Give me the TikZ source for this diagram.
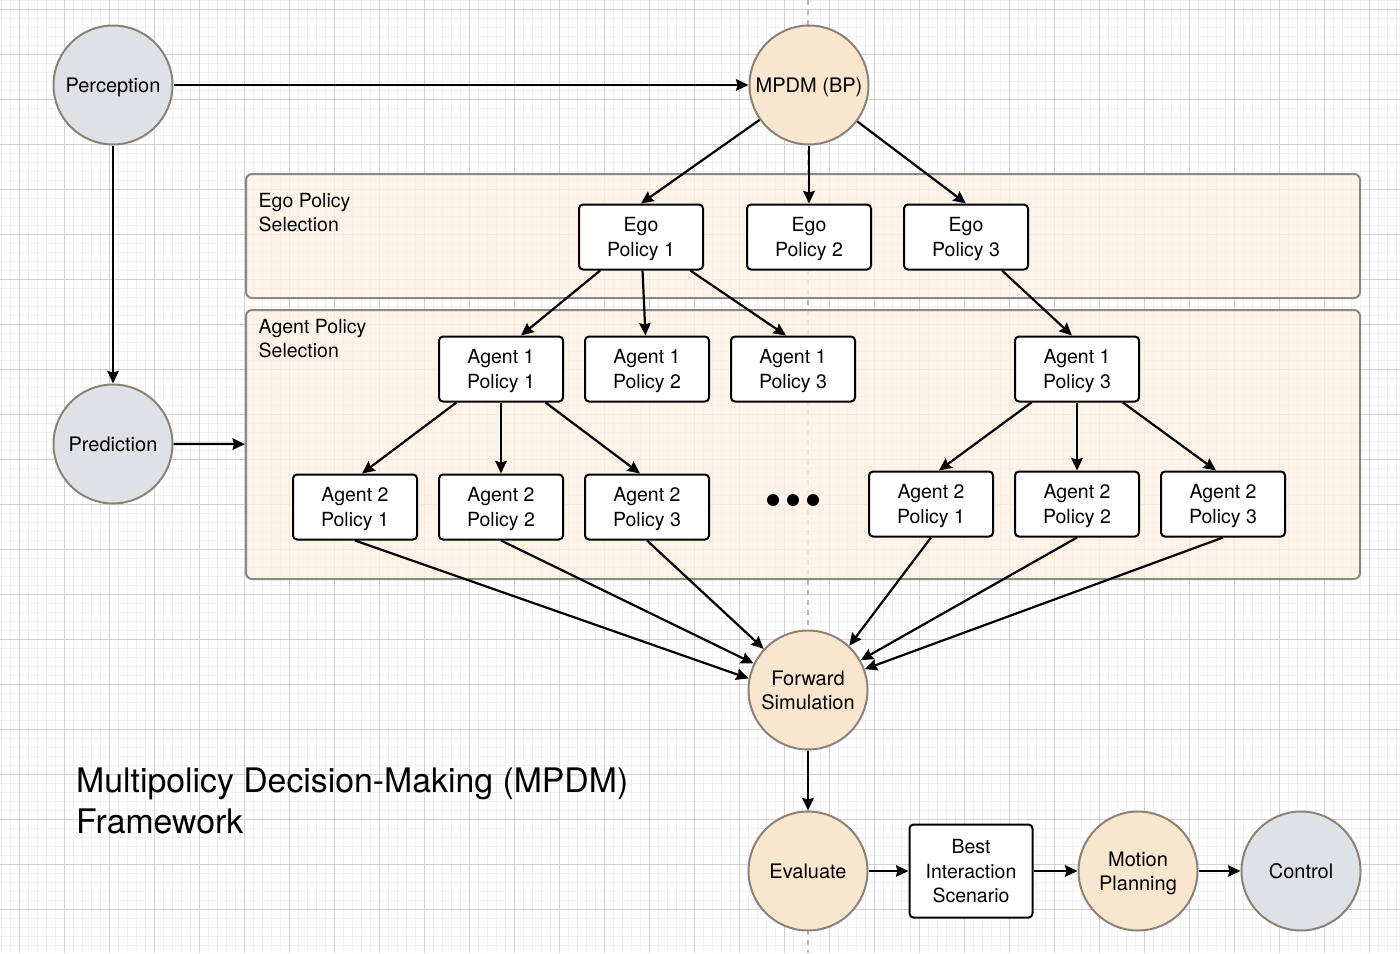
\documentclass[tikz,border=0pt]{standalone}
\usepackage{fontspec}
\setmainfont{TeX Gyre Heros}
\usetikzlibrary{positioning, arrows.meta}
\definecolor{gridmajor}{RGB}{208,208,208}
\definecolor{gridminor}{RGB}{240,240,240}
\definecolor{centreline}{RGB}{185,185,185}
\definecolor{greyfill}{RGB}{222,225,230}
\definecolor{peachfill}{RGB}{248,230,207}
\definecolor{circborder}{RGB}{140,130,118}
\definecolor{panelfill}{RGB}{252,240,226}
\definecolor{panelborder}{RGB}{143,135,125}

\begin{document}
\begin{tikzpicture}[
     x=1pt, y=-1pt,
     >={Stealth[length=12.5pt, width=11.5pt, inset=1.5pt]},
every node/.style = {font=\fontsize{19.5}{24.5}\selectfont},
   greycirc/.style = {circle, draw=circborder, line width=2pt, fill=greyfill,
                      minimum size=119pt, inner sep=0pt, align=center, text depth=0pt,
                      font=\fontsize{20}{24.5}\selectfont},
  peachcirc/.style = {greycirc, fill=peachfill},
       pbox/.style = {rectangle, draw, line width=2pt, rounded corners=4pt, fill=white,
                      minimum width=124pt, minimum height=65pt, inner sep=0pt,
                      align=center, text depth=0pt},
      panel/.style = {rectangle, draw=panelborder, line width=2pt, rounded corners=6pt,
                      fill=panelfill, fill opacity=0.8, inner sep=0pt},
   grouplbl/.style = {anchor=north west, inner sep=0pt, align=left},
       flow/.style = {->, line width=2.2pt}
                        ]
\useasboundingbox (0,0) rectangle (1400,953);
% background grid
\foreach \x in {1,10,...,1400} \draw[gridminor, line width=1pt] (\x,0) -- (\x,953);
\foreach \y in {0,9,...,953} \draw[gridminor, line width=1pt] (0,\y) -- (1400,\y);
\foreach \x in {19,64,...,1400} \draw[gridmajor, line width=1pt] (\x,0) -- (\x,953);
\foreach \y in {9,54,...,953} \draw[gridmajor, line width=1pt] (0,\y) -- (1400,\y);
\draw[centreline, line width=1.5pt, dash pattern=on 5pt off 5pt] (808,0) -- (808,953);

% selection panels
\node (egopanel)   [panel, minimum width=1114pt, minimum height=124pt] at (803,236) {};
\node (agentpanel) [panel, minimum width=1114pt, minimum height=269pt] at (803,444.5) {};
\node (egolbl)   [grouplbl] at (258.5,193) {Ego Policy\\Selection};
\node (agentlbl) [grouplbl] at (258.5,319) {Agent Policy\\Selection};

\node (perc) [greycirc] at (113,85) {Perception};
\node (mpdm) [peachcirc, right=575pt of perc] {MPDM (BP)};
\node (pred) [greycirc, below=238pt of perc] {Prediction};

\node (ego2) [pbox, below=58pt of mpdm] {Ego\\Policy 2};
\node (ego1) [pbox, left=42pt of ego2] {Ego\\Policy 1};
\node (ego3) [pbox, right=31pt of ego2] {Ego\\Policy 3};

\node (a1p2) [pbox, below=65pt of ego1, xshift=6pt] {Agent 1\\Policy 2};
\node (a1p1) [pbox, left=20pt of a1p2] {Agent 1\\Policy 1};
\node (a1p3) [pbox, right=20pt of a1p2] {Agent 1\\Policy 3};
\node (a2p2) [pbox, below=71pt of a1p1] {Agent 2\\Policy 2};
\node (a2p1) [pbox, left=20pt of a2p2] {Agent 2\\Policy 1};
\node (a2p3) [pbox, right=20pt of a2p2] {Agent 2\\Policy 3};

\node (ra1p3) [pbox, right=158pt of a1p3] {Agent 1\\Policy 3};
\node (ra2p2) [pbox, below=68pt of ra1p3] {Agent 2\\Policy 2};
\node (ra2p1) [pbox, left=20pt of ra2p2] {Agent 2\\Policy 1};
\node (ra2p3) [pbox, right=20pt of ra2p2] {Agent 2\\Policy 3};

\foreach \dx in {-20,0,20} \fill (793+\dx,500) circle (6pt);

\node (fsim)   [peachcirc] at (808,690) {Forward\\Simulation};
\node (eval)   [peachcirc, below=60pt of fsim] {Evaluate};
\node (best)   [pbox, right=40pt of eval, minimum width=123pt, minimum height=93pt] {Best\\Interaction\\Scenario};
\node (motion) [peachcirc, right=44pt of best] {Motion\\Planning};
\node (ctrl)   [greycirc, right=42pt of motion] {Control};

\node (title) [anchor=north west, inner sep=0pt, align=left,
               font=\fontsize{33.8}{41}\selectfont] at (76,768)
              {Multipolicy Decision-Making (MPDM)\\Framework};

\draw[flow] (perc) -- (mpdm);
\draw[flow] (perc) -- (pred);
\draw[flow] (pred) -- (agentpanel);
\draw[flow] (mpdm) -- (ego1.north);
\draw[flow] (mpdm) -- (ego2);
\draw[flow] (mpdm) -- (ego3.north);
\draw[flow] (ego1) -- ([xshift=20pt]a1p1.north);
\draw[flow] (ego1) -- (a1p2);
\draw[flow] (ego1) -- ([xshift=-7pt]a1p3.north);
\draw[flow] (ego3) -- ([xshift=-5pt]ra1p3.north);
\draw[flow] (a1p1) -- ([xshift=7pt]a2p1.north);
\draw[flow] (a1p1) -- (a2p2);
\draw[flow] (a1p1) -- ([xshift=-7pt]a2p3.north);
\draw[flow] (ra1p3) -- ([xshift=8pt]ra2p1.north);
\draw[flow] (ra1p3) -- (ra2p2);
\draw[flow] (ra1p3) -- ([xshift=-7pt]ra2p3.north);
\draw[flow] (a2p1.south) -- (fsim.169);
\draw[flow] (a2p2.south) -- (fsim);
\draw[flow] (a2p3.south) -- (fsim);
\draw[flow] (ra2p1.south) -- (fsim.47);
\draw[flow] (ra2p2.south) -- (fsim);
\draw[flow] (ra2p3.south) -- (fsim);
\draw[flow] (fsim) -- (eval);
\draw[flow] (eval) -- (best);
\draw[flow] (best) -- (motion);
\draw[flow] (motion) -- (ctrl);
\end{tikzpicture}
\end{document}
